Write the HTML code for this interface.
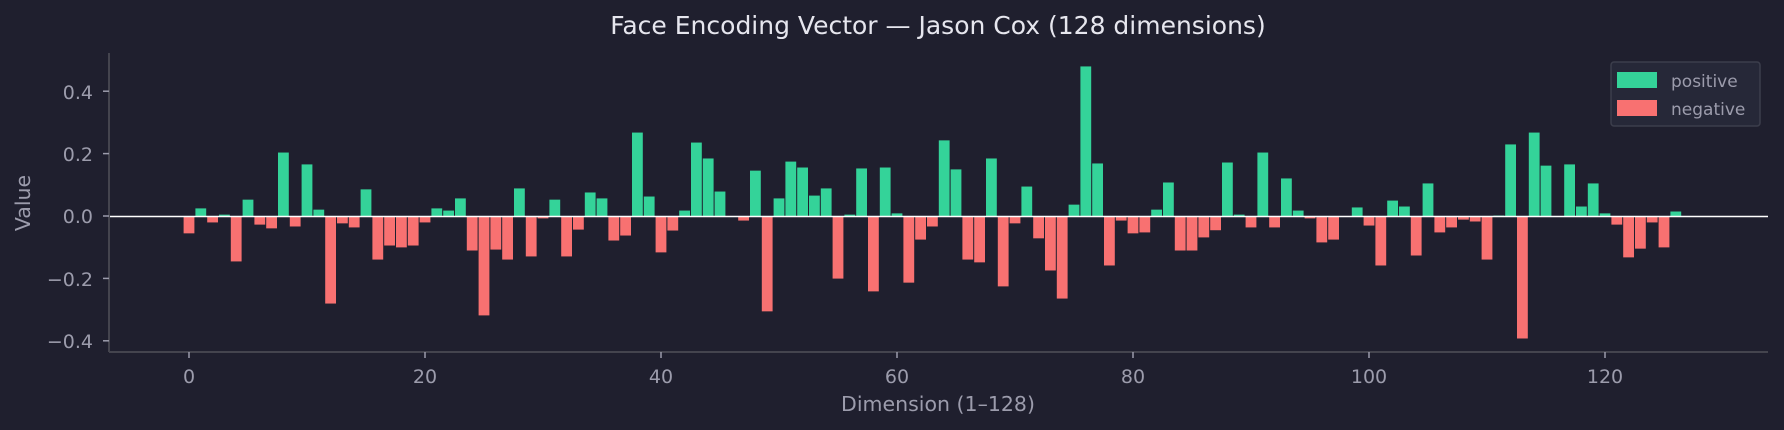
<!DOCTYPE html>
<html><head><meta charset="utf-8"><style>
html,body{margin:0;padding:0;background:#1f1f2e;}
svg{display:block;font-family:"DejaVu Sans","Liberation Sans",sans-serif;}
</style></head><body>
<svg id="c" width="1784" height="430" viewBox="0 0 1784 430" xmlns="http://www.w3.org/2000/svg">
<rect width="1784" height="430" fill="#1f1f2e"/>
<text x="938" y="34" text-anchor="middle" fill="#e6e6ee" font-size="25">Face Encoding Vector — Jason Cox (128 dimensions)</text>
<g id="bars"></g>
<line x1="109" y1="216.5" x2="1768" y2="216.5" stroke="#ffffff" stroke-width="1.5"/>
<line x1="109" y1="53" x2="109" y2="352" stroke="#44444e" stroke-width="2"/>
<line x1="109" y1="352" x2="1768" y2="352" stroke="#44444e" stroke-width="2"/>
<g fill="#9c9cac" font-size="19" text-anchor="end" stroke="none">
<text x="93" y="99">0.4</text>
<text x="93" y="223">0.0</text>
<text x="93" y="161">0.2</text>
<text x="93" y="286">−0.2</text>
<text x="93" y="348">−0.4</text>
</g>
<g stroke="#9c9cac" stroke-width="1.5">
<line x1="103" y1="91.2" x2="109" y2="91.2"/>
<line x1="103" y1="153.6" x2="109" y2="153.6"/>
<line x1="103" y1="216" x2="109" y2="216"/>
<line x1="103" y1="278.4" x2="109" y2="278.4"/>
<line x1="103" y1="340.8" x2="109" y2="340.8"/>
<line x1="189" y1="352" x2="189" y2="358"/>
<line x1="425" y1="352" x2="425" y2="358"/>
<line x1="661" y1="352" x2="661" y2="358"/>
<line x1="897" y1="352" x2="897" y2="358"/>
<line x1="1133" y1="352" x2="1133" y2="358"/>
<line x1="1369" y1="352" x2="1369" y2="358"/>
<line x1="1605" y1="352" x2="1605" y2="358"/>
</g>
<g fill="#9c9cac" font-size="19" text-anchor="middle">
<text x="189" y="383">0</text>
<text x="425" y="383">20</text>
<text x="661" y="383">40</text>
<text x="897" y="383">60</text>
<text x="1133" y="383">80</text>
<text x="1369" y="383">100</text>
<text x="1605" y="383">120</text>
<text x="938" y="411" font-size="20.5">Dimension (1–128)</text>
<text x="0" y="0" font-size="20.5" transform="translate(30,203) rotate(-90)">Value</text>
</g>
<rect x="1611" y="62" width="149" height="64" rx="3" fill="#262838" stroke="#3c3e4c" stroke-width="1.5"/>
<rect x="1617" y="72" width="40" height="16" fill="#34d399"/>
<rect x="1617" y="100" width="40" height="16" fill="#f87171"/>
<text x="1671" y="87" fill="#9c9cac" font-size="17">positive</text>
<text x="1671" y="115" fill="#9c9cac" font-size="17">negative</text>
</svg>
<script>
var v=[-0.054,0.026,-0.019,0.006,-0.144,0.054,-0.026,-0.038,0.205,-0.032,0.167,0.022,-0.279,-0.022,-0.035,0.087,-0.138,-0.093,-0.099,-0.093,-0.019,0.026,0.019,0.058,-0.109,-0.317,-0.106,-0.138,0.090,-0.128,-0.006,0.054,-0.128,-0.042,0.077,0.058,-0.077,-0.061,0.269,0.064,-0.115,-0.045,0.019,0.237,0.186,0.080,0.0,-0.013,0.147,-0.304,0.058,0.176,0.157,0.067,0.090,-0.199,0.006,0.154,-0.240,0.157,0.010,-0.212,-0.074,-0.032,0.244,0.151,-0.138,-0.147,0.186,-0.224,-0.022,0.096,-0.070,-0.173,-0.263,0.038,0.481,0.170,-0.157,-0.013,-0.054,-0.051,0.022,0.109,-0.109,-0.109,-0.067,-0.044,0.173,0.006,-0.035,0.205,-0.035,0.122,0.019,-0.006,-0.083,-0.074,0.0,0.029,-0.029,-0.157,0.051,0.032,-0.125,0.106,-0.051,-0.035,-0.010,-0.016,-0.138,0.003,0.231,-0.391,0.269,0.163,0.0,0.167,0.032,0.106,0.010,-0.026,-0.131,-0.103,-0.019,-0.099,0.016,0.0];
var g=document.getElementById('bars'),ns='http://www.w3.org/2000/svg';
for(var i=0;i<v.length;i++){if(v[i]==0)continue;var r=document.createElementNS(ns,'rect');
var cx=189+i*11.8,h=Math.abs(v[i])*312;r.setAttribute('x',(cx-5.4).toFixed(2));r.setAttribute('width','10.8');
r.setAttribute('y',(v[i]>0?216.5-h:216.5).toFixed(2));r.setAttribute('height',h.toFixed(2));
r.setAttribute('fill',v[i]>0?'#34d399':'#f87171');g.appendChild(r);}
</script>
</body></html>
